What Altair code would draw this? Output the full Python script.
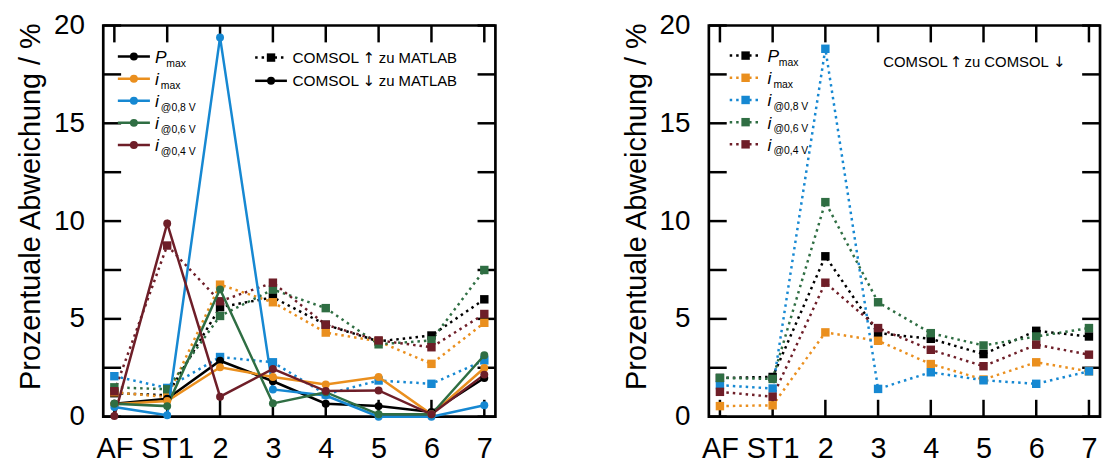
import altair as alt
import pandas as pd

# ---------------- data ----------------
categories = ["AF", "ST1", "2", "3", "4", "5", "6", "7"]
series = ["Pmax", "imax", "i08", "i06", "i04"]
colors = ["#000000", "#EA8F1E", "#1688D2", "#2F6E43", "#6E1E28"]
legend_main = ["P", "i", "i", "i", "i"]
legend_sub = ["max", "max", "@0,8 V", "@0,6 V", "@0,4 V"]

# left panel, COMSOL up vs MATLAB (dotted, squares)
up_pmax = [1.2, 1.1, 5.6, 6.1, 4.7, 3.85, 4.15, 6.0]
up_imax = [1.25, 1.0, 6.75, 5.85, 4.3, 3.85, 2.7, 4.8]
up_i08 = [2.07, 1.47, 3.05, 2.78, 1.14, 1.85, 1.68, 2.88]
up_i06 = [1.5, 1.4, 5.15, 6.5, 5.55, 3.7, 3.9, 7.5]
up_i04 = [1.3, 8.75, 5.9, 6.85, 4.7, 3.9, 3.55, 5.25]

# left panel, COMSOL down vs MATLAB (solid, circles)
dn_pmax = [0.66, 0.92, 2.86, 1.81, 0.66, 0.54, 0.24, 1.98]
dn_imax = [0.63, 0.8, 2.53, 2.03, 1.64, 2.03, 0.12, 2.49]
dn_i08 = [0.49, 0.07, 19.39, 1.39, 1.08, 0.0, 0.0, 0.58]
dn_i06 = [0.66, 0.54, 6.51, 0.68, 1.25, 0.12, 0.12, 3.14]
dn_i04 = [0.03, 9.88, 1.02, 2.44, 1.31, 1.34, 0.12, 2.15]

# right panel, COMSOL up vs COMSOL down (dotted, squares)
cc_pmax = [1.98, 2.03, 8.2, 4.27, 3.98, 3.2, 4.39, 4.1]
cc_imax = [0.54, 0.58, 4.31, 3.88, 2.69, 1.9, 2.78, 2.32]
cc_i08 = [1.61, 1.44, 18.81, 1.42, 2.27, 1.86, 1.68, 2.32]
cc_i06 = [1.98, 1.93, 10.97, 5.85, 4.27, 3.64, 4.1, 4.53]
cc_i04 = [1.27, 1.02, 6.85, 4.53, 3.42, 2.58, 3.68, 3.17]

y_labels = [0, 5, 10, 15, 20]
y_ticks = [0, 2.5, 5, 7.5, 10, 12.5, 15, 17.5, 20]


def long_df(lists):
    rows = []
    for s, vals in zip(series, lists):
        for i, (c, v) in enumerate(zip(categories, vals)):
            rows.append({"series": s, "cat": c, "idx": i, "value": v})
    return pd.DataFrame(rows)


df_up = long_df([up_pmax, up_imax, up_i08, up_i06, up_i04])
df_dn = long_df([dn_pmax, dn_imax, dn_i08, dn_i06, dn_i04])
df_cc = long_df([cc_pmax, cc_imax, cc_i08, cc_i06, cc_i04])
cat_df = pd.DataFrame({"cat": categories, "idx": list(range(len(categories)))})
tick_df = pd.DataFrame({"value": y_ticks})
dummy = pd.DataFrame({"a": [0]})

W, H = 395, 394
FONT = "Liberation Sans"
ARROW_FONT = "DejaVu Sans"
DASH = [2.5, 4]
LW = 2.5

cscale = alt.Scale(domain=series, range=colors)
xscale = alt.Scale(type="point", domain=categories, padding=0.21)
yscale = alt.Scale(domain=[0, 20], nice=False, zero=False)

X = alt.X("cat:O", sort=categories, scale=xscale,
          axis=alt.Axis(labelAngle=0, tickSize=0, domain=False, grid=False,
                        labelFontSize=29, labelPadding=18, labelColor="black",
                        labelOverlap=False, title=None, labelFont=FONT))
Y = alt.Y("value:Q", scale=yscale,
          axis=alt.Axis(values=y_labels, tickSize=0, domain=False, grid=False,
                        labelFontSize=28, labelPadding=19, labelColor="black",
                        labelFont=FONT, title="Prozentuale Abweichung / %",
                        titleFont=FONT, titleFontSize=29, titleFontWeight="normal",
                        titleColor="black", titlePadding=8, titleY=182))
COL = alt.Color("series:N", scale=cscale, legend=None)


def frame_ticks(width):
    left = alt.Chart(tick_df).mark_rule(color="black", strokeWidth=LW).encode(
        y=Y, x=alt.value(0), x2=alt.value(18))
    right = alt.Chart(tick_df).mark_rule(color="black", strokeWidth=LW).encode(
        y=Y, x=alt.value(width - 18), x2=alt.value(width))
    top = alt.Chart(cat_df).mark_rule(color="black", strokeWidth=LW).encode(
        x=X, y=alt.value(0), y2=alt.value(17))
    bottom = alt.Chart(cat_df).mark_rule(color="black", strokeWidth=LW).encode(
        x=X, y=alt.value(H - 17), y2=alt.value(H))
    return [left, right, top, bottom]


def dotted_layers(df):
    line = alt.Chart(df).mark_line(strokeWidth=LW, strokeDash=DASH).encode(
        x=X, y=Y, color=COL, order=alt.Order("idx:Q"))
    pts = alt.Chart(df).mark_point(shape="square", filled=True, size=72, opacity=1).encode(
        x=X, y=Y, color=COL)
    return [line, pts]


def solid_layers(df):
    line = alt.Chart(df).mark_line(strokeWidth=LW).encode(
        x=X, y=Y, color=COL, order=alt.Order("idx:Q"))
    pts = alt.Chart(df).mark_point(shape="circle", filled=True, size=64, opacity=1).encode(
        x=X, y=Y, color=COL)
    return [line, pts]


def sym(x0, x1, y, color, dotted):
    kw = dict(color=color, strokeWidth=LW)
    if dotted:
        kw["strokeDash"] = DASH
    line = alt.Chart(dummy).mark_rule(**kw).encode(
        x=alt.value(x0), x2=alt.value(x1), y=alt.value(y))
    pt = alt.Chart(dummy).mark_point(
        shape="square" if dotted else "circle", filled=True,
        size=72 if dotted else 64, opacity=1, color=color).encode(
        x=alt.value((x0 + x1) / 2), y=alt.value(y))
    return [line, pt]


def txt(text, x, y, size, align="left", baseline="middle", font=FONT, style="normal"):
    return alt.Chart(dummy).mark_text(
        text=text, fontSize=size, font=font, align=align, baseline=baseline,
        fontStyle=style, color="black").encode(x=alt.value(x), y=alt.value(y))


def series_legend(x0, x1, xt, y0, dy, dotted):
    layers = []
    for k, (c, m, sub) in enumerate(zip(colors, legend_main, legend_sub)):
        yk = y0 + dy * k
        layers += sym(x0, x1, yk, c, dotted)
        layers.append(txt(m, xt, yk + 6.5, 17.5, baseline="alphabetic", style="italic"))
        layers.append(txt(sub, xt + (11.5 if m == "P" else 6), yk + 10, 10.5,
                          baseline="alphabetic"))
    return layers


# ---------------- left panel ----------------
left_layers = frame_ticks(W)
left_layers += dotted_layers(df_up)
left_layers += solid_layers(df_dn)
left_layers += series_legend(14.7, 47, 52, 31.3, 22.25, False)
left_layers += sym(153, 185, 32.3, "black", True)
left_layers += sym(153, 185, 55.7, "black", False)
for yy, arrow in [(32.3, "\u2191"), (55.7, "\u2193")]:
    left_layers.append(txt("COMSOL", 190.5, yy, 15.5))
    left_layers.append(txt(arrow, 267.5, yy, 15, align="center", font=ARROW_FONT))
    left_layers.append(txt("zu MATLAB", 277.5, yy, 15))
left = alt.layer(*left_layers).properties(width=W, height=H)

# ---------------- right panel ----------------
W2 = 394
right_layers = frame_ticks(W2)
right_layers += dotted_layers(df_cc)
right_layers += series_legend(21, 53, 59, 30.3, 22.35, True)
right_layers.append(txt("COMSOL", 175.7, 37, 15))
right_layers.append(txt("\u2191", 249, 37, 15, align="center", font=ARROW_FONT))
right_layers.append(txt("zu COMSOL", 257.5, 37, 15))
right_layers.append(txt("\u2193", 353, 37, 15, align="center", font=ARROW_FONT))
right = alt.layer(*right_layers).properties(width=W2, height=H)

chart = alt.hconcat(left, right, spacing=123).configure_view(
    stroke="black", strokeWidth=2.7).properties(
    padding={"left": 15, "top": 8, "right": 0, "bottom": 0},
    background="white")

chart.save("out.html", embed_options={"renderer": "svg", "actions": False})
